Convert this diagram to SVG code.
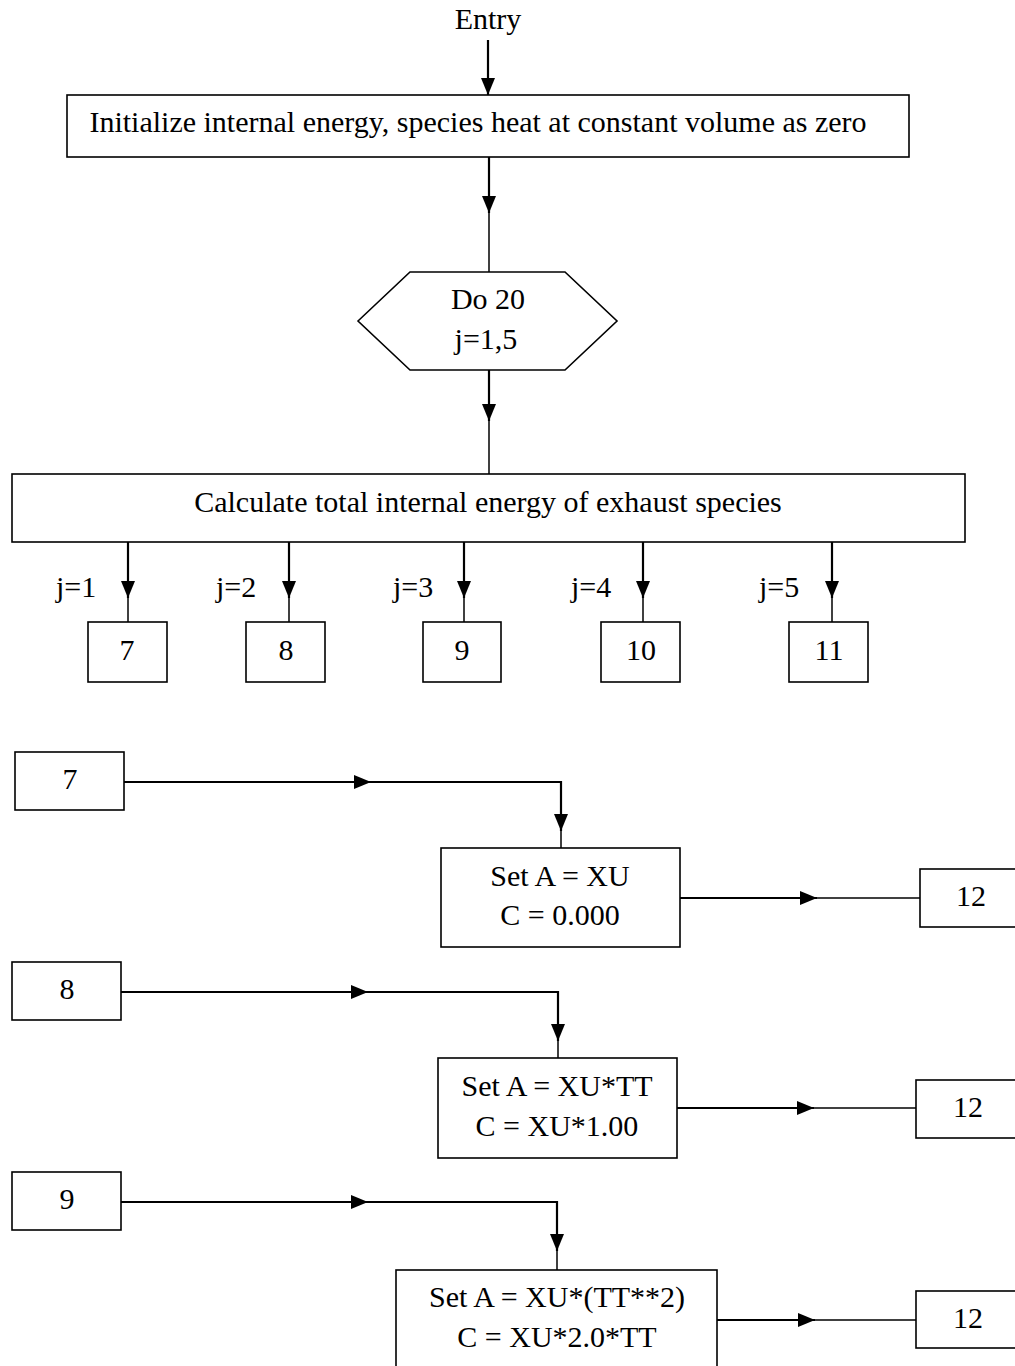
<svg xmlns="http://www.w3.org/2000/svg" width="1015" height="1366" viewBox="0 0 1015 1366">
<style>
.box{fill:#fff;stroke:#000;stroke-width:1.6}
.t{font-family:"Liberation Serif","Times New Roman",serif;font-size:30px;fill:#000;text-anchor:middle}
.tl{font-family:"Liberation Serif","Times New Roman",serif;font-size:30px;fill:#000}
.a{stroke:#000;stroke-width:2.2;fill:none}
.l{stroke:#000;stroke-width:1.5;fill:none}
</style>
<defs>
<marker id="ah" markerUnits="userSpaceOnUse" markerWidth="18" markerHeight="16" refX="17" refY="8" orient="auto">
<path d="M0,1 L17,8 L0,15 Z" fill="#000"/>
</marker>
</defs>
<rect width="1015" height="1366" fill="#fff"/>
<text class="t" x="488" y="29">Entry</text>
<g id="connectors">
<path class="a" d="M488,40 V95" marker-end="url(#ah)"/>
<path class="a" d="M489,157 V213" marker-end="url(#ah)"/><path class="l" d="M489,213 V272"/>
<path class="a" d="M489,370 V421" marker-end="url(#ah)"/><path class="l" d="M489,421 V474"/>
<path class="a" d="M128,542 V598" marker-end="url(#ah)"/><path class="l" d="M128,598 V622"/>
<path class="a" d="M289,542 V598" marker-end="url(#ah)"/><path class="l" d="M289,598 V622"/>
<path class="a" d="M464,542 V598" marker-end="url(#ah)"/><path class="l" d="M464,598 V622"/>
<path class="a" d="M643,542 V598" marker-end="url(#ah)"/><path class="l" d="M643,598 V622"/>
<path class="a" d="M832,542 V598" marker-end="url(#ah)"/><path class="l" d="M832,598 V622"/>
<path class="a" d="M124,782 H371" marker-end="url(#ah)"/><path class="a" d="M371,782 H561 V831" marker-end="url(#ah)"/><path class="l" d="M561,831 V848"/>
<path class="a" d="M680,898 H817" marker-end="url(#ah)"/><path class="l" d="M817,898 H920"/>
<path class="a" d="M121,992 H368" marker-end="url(#ah)"/><path class="a" d="M368,992 H558 V1041" marker-end="url(#ah)"/><path class="l" d="M558,1041 V1058"/>
<path class="a" d="M677,1108 H814" marker-end="url(#ah)"/><path class="l" d="M814,1108 H916"/>
<path class="a" d="M121,1202 H368" marker-end="url(#ah)"/><path class="a" d="M368,1202 H557 V1251" marker-end="url(#ah)"/><path class="l" d="M557,1251 V1270"/>
<path class="a" d="M717,1320 H815" marker-end="url(#ah)"/><path class="l" d="M815,1320 H916"/>
</g>
<g id="init"><rect class="box" x="67" y="95" width="842" height="62"/><text class="t" x="478" y="132">Initialize internal energy, species heat at constant volume as zero</text></g>
<g id="loop"><polygon class="box" points="358,321 410,272 565,272 617,321 565,370 410,370"/><text class="t" x="488" y="309">Do 20</text><text class="t" x="486" y="349">j=1,5</text></g>
<g id="calc"><rect class="box" x="12" y="474" width="953" height="68"/><text class="t" x="488" y="512">Calculate total internal energy of exhaust species</text></g>
<g id="labels">
<text class="tl" x="56" y="597">j=1</text><text class="tl" x="216" y="597">j=2</text><text class="tl" x="393" y="597">j=3</text><text class="tl" x="571" y="597">j=4</text><text class="tl" x="759" y="597">j=5</text>
</g>
<g id="b7"><rect class="box" x="88" y="622" width="79" height="60"/><text class="t" x="127" y="660">7</text></g>
<g id="b8"><rect class="box" x="246" y="622" width="79" height="60"/><text class="t" x="286" y="660">8</text></g>
<g id="b9"><rect class="box" x="423" y="622" width="78" height="60"/><text class="t" x="462" y="660">9</text></g>
<g id="b10"><rect class="box" x="601" y="622" width="79" height="60"/><text class="t" x="641" y="660">10</text></g>
<g id="b11"><rect class="box" x="789" y="622" width="79" height="60"/><text class="t" x="829" y="660">11</text></g>
<g id="c7"><rect class="box" x="15" y="752" width="109" height="58"/><text class="t" x="70" y="789">7</text></g>
<g id="setA1"><rect class="box" x="441" y="848" width="239" height="99"/><text class="t" x="560" y="886">Set A = XU</text><text class="t" x="560" y="925">C = 0.000</text></g>
<g id="r12a"><rect class="box" x="920" y="869" width="110" height="58"/><text class="t" x="971" y="906">12</text></g>
<g id="c8"><rect class="box" x="12" y="962" width="109" height="58"/><text class="t" x="67" y="999">8</text></g>
<g id="setA2"><rect class="box" x="438" y="1058" width="239" height="100"/><text class="t" x="557" y="1096">Set A = XU*TT</text><text class="t" x="557" y="1136">C = XU*1.00</text></g>
<g id="r12b"><rect class="box" x="916" y="1080" width="110" height="58"/><text class="t" x="968" y="1117">12</text></g>
<g id="c9"><rect class="box" x="12" y="1172" width="109" height="58"/><text class="t" x="67" y="1209">9</text></g>
<g id="setA3"><rect class="box" x="396" y="1270" width="321" height="110"/><text class="t" x="557" y="1307">Set A = XU*(TT**2)</text><text class="t" x="557" y="1347">C = XU*2.0*TT</text></g>
<g id="r12c"><rect class="box" x="916" y="1291" width="110" height="57"/><text class="t" x="968" y="1328">12</text></g>
</svg>
